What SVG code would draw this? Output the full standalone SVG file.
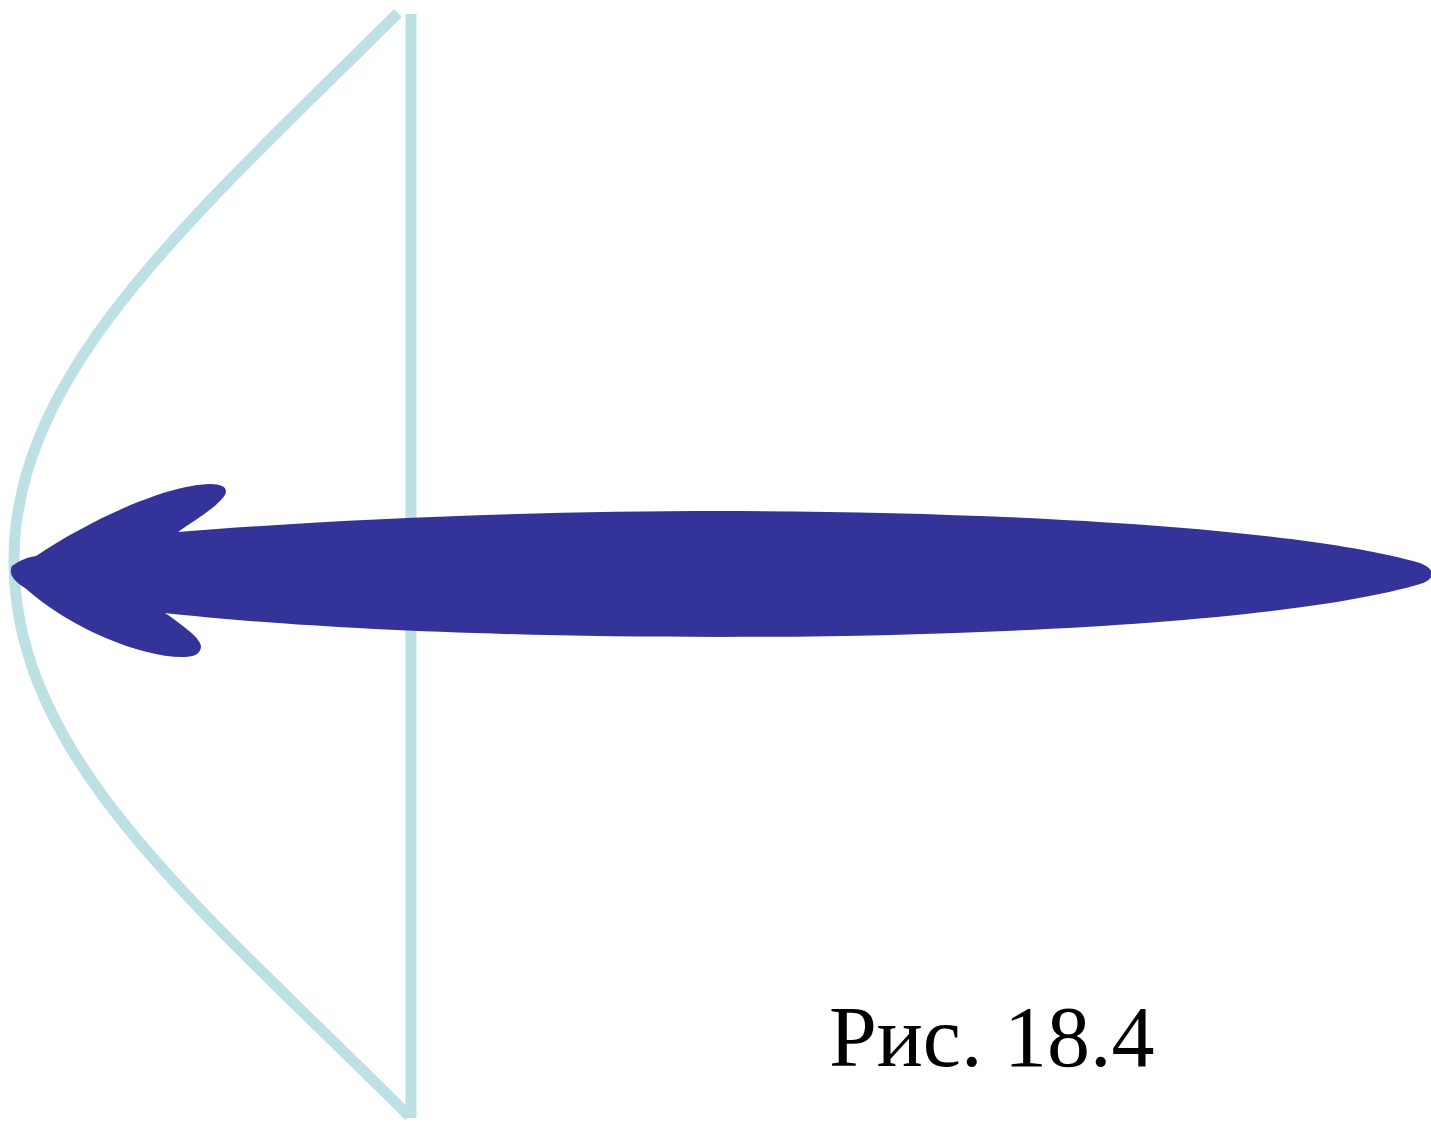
<svg xmlns="http://www.w3.org/2000/svg" width="1431" height="1122" viewBox="0 0 1431 1122">
<style>
.refl{fill:none;stroke:#bce0e3;stroke-width:11}
.lobe{fill:#333399}
.cap{font-family:"Liberation Serif","Times New Roman",serif;font-size:86px;fill:#000}
</style>
<rect width="1431" height="1122" fill="#fff"/>
<g id="reflector">
<path class="refl" d="M398,13 C197,213 14,370 14,560 C14,760 198,905 409,1116"/>
<line class="refl" x1="411" y1="14" x2="411" y2="1118"/>
</g>
<g id="pattern">
<path class="lobe" d="M12,566 C20,560 28,557 36,556 C90,520 165,485 210,484 C228,484 230,492 220,501 C208,513 192,522 178,532 C350,518 550,511 720,511 C1000,511 1300,528 1420,563 C1436,569 1436,579 1420,584 C1300,620 1000,637 720,637 C500,637 300,628 165,613 C185,627 200,638 201,646 C201,655 192,657 182,657 C140,657 70,628 25,588 C14,581 8,574 12,566 Z"/>
</g>
<g id="caption">
<text class="cap" x="829" y="1066">Рис. 18.4</text>
</g>
</svg>
